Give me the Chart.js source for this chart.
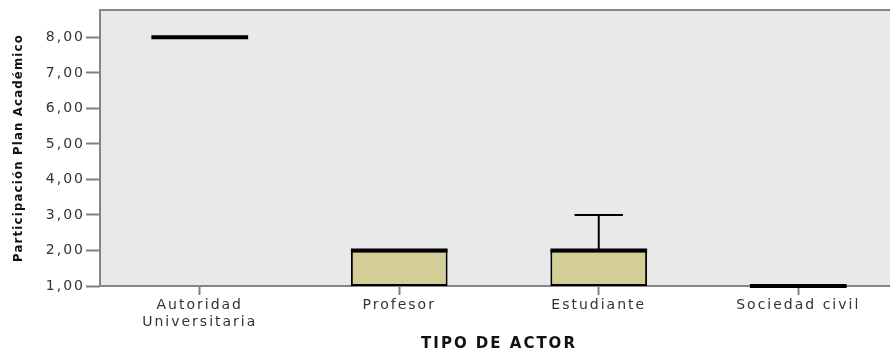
<!DOCTYPE html>
<html>
<head>
<meta charset="utf-8">
<script src="https://cdn.jsdelivr.net/npm/chart.js@4"></script>
<style>
  html, body { margin: 0; padding: 0; background: #fff; overflow: hidden; }
  #wrap { width: 898px; height: 353px; }
</style>
</head>
<body>
<div id="wrap"><canvas id="myChart"></canvas></div>
<script>
// categorias y valores del boxplot
var categories = [["Autoridad", "Universitaria"], "Profesor", "Estudiante", "Sociedad civil"];
var whiskerLow = [8, 1, 1, 1];
var q1 = [8, 1, 1, 1];
var median = [8, 2, 2, 1];
var q3 = [8, 2, 2, 1];
var whiskerHigh = [8, 2, 3, 1];
var yTicks = [1, 2, 3, 4, 5, 6, 7, 8];

var boxes = [];
for (var i = 0; i < categories.length; i++) {
  boxes.push([q1[i], q3[i]]);
}

// cambia el espaciado de letras para cada parte del eje
function patch(scale, method, spacing) {
  if (scale["_p_" + method]) return;
  var orig = scale[method];
  scale[method] = function (a) {
    var ctx = this.ctx;
    var prev = ctx.letterSpacing;
    ctx.letterSpacing = spacing;
    orig.call(this, a);
    ctx.letterSpacing = prev;
  };
  scale["_p_" + method] = true;
}

var boxPlugin = {
  id: "boxPlugin",
  beforeDraw: function (chart) {
    patch(chart.scales.y, "drawLabels", "2px");
    patch(chart.scales.y, "drawTitle", "1.2px");
    patch(chart.scales.x, "drawLabels", "2px");
    patch(chart.scales.x, "drawTitle", "2px");
  },
  beforeDatasetsDraw: function (chart) {
    var ctx = chart.ctx;
    var a = chart.chartArea;
    ctx.save();
    ctx.fillStyle = "#e9e9e9";
    ctx.fillRect(a.left, a.top, a.right - a.left, a.bottom - a.top);
    ctx.strokeStyle = "#858585";
    ctx.lineWidth = 2;
    ctx.strokeRect(a.left, a.top, a.right - a.left, a.bottom - a.top);
    ctx.restore();
  },
  afterDatasetsDraw: function (chart) {
    var ctx = chart.ctx;
    var y = chart.scales.y;
    var meta = chart.getDatasetMeta(0);
    ctx.save();
    ctx.strokeStyle = "#000";
    for (var i = 0; i < categories.length; i++) {
      var bar = meta.data[i];
      var x = bar.x;
      var w = bar.width;
      // bigotes
      ctx.lineWidth = 2;
      if (whiskerHigh[i] > q3[i]) {
        ctx.beginPath();
        ctx.moveTo(x, y.getPixelForValue(q3[i]));
        ctx.lineTo(x, y.getPixelForValue(whiskerHigh[i]));
        ctx.moveTo(x - w / 4, y.getPixelForValue(whiskerHigh[i]));
        ctx.lineTo(x + w / 4, y.getPixelForValue(whiskerHigh[i]));
        ctx.stroke();
      }
      if (whiskerLow[i] < q1[i]) {
        ctx.beginPath();
        ctx.moveTo(x, y.getPixelForValue(q1[i]));
        ctx.lineTo(x, y.getPixelForValue(whiskerLow[i]));
        ctx.moveTo(x - w / 4, y.getPixelForValue(whiskerLow[i]));
        ctx.lineTo(x + w / 4, y.getPixelForValue(whiskerLow[i]));
        ctx.stroke();
      }
      // mediana
      ctx.lineWidth = 4;
      ctx.beginPath();
      ctx.moveTo(x - w / 2, y.getPixelForValue(median[i]));
      ctx.lineTo(x + w / 2, y.getPixelForValue(median[i]));
      ctx.stroke();
    }
    ctx.restore();
  }
};

var ctx = document.getElementById("myChart").getContext("2d");
var chart = new Chart(ctx, {
  type: "bar",
  data: {
    labels: categories,
    datasets: [
      {
        data: boxes,
        backgroundColor: "#d3cd96",
        borderColor: "#000",
        borderWidth: 2,
        borderSkipped: false,
        barPercentage: 0.485,
        categoryPercentage: 1
      }
    ]
  },
  options: {
    responsive: true,
    maintainAspectRatio: false,
    animation: false,
    layout: { padding: { top: 10, left: 0, right: 0, bottom: 0 } },
    plugins: { legend: { display: false }, tooltip: { enabled: false } },
    scales: {
      x: {
        grid: { drawOnChartArea: false, drawTicks: true, offset: false, tickLength: 9, tickColor: "#808080", tickWidth: 2 },
        border: { display: false },
        ticks: {
          color: "#333",
          padding: 2,
          maxRotation: 0,
          autoSkip: false,
          font: { family: "DejaVu Sans", size: 14, lineHeight: 1.2 }
        },
        title: {
          display: true,
          text: "TIPO DE ACTOR",
          color: "#111",
          padding: { top: 0, bottom: 0 },
          font: { family: "DejaVu Sans", size: 15, weight: "bold", lineHeight: 1.2 }
        },
        afterFit: function (scale) { scale.height = 67; }
      },
      y: {
        min: 1,
        max: 8.77,
        grid: { drawOnChartArea: false, drawTicks: true, tickLength: 14, tickColor: "#808080", tickWidth: 2 },
        border: { display: false },
        afterBuildTicks: function (scale) {
          scale.ticks = yTicks.map(function (v) { return { value: v }; });
        },
        ticks: {
          color: "#333",
          padding: 1,
          font: { family: "DejaVu Sans", size: 14 },
          callback: function (v) { return Number(v).toFixed(2).replace(".", ","); }
        },
        title: {
          display: true,
          text: "Participación Plan Académico",
          color: "#111",
          padding: { top: 11, bottom: 0 },
          font: { family: "DejaVu Sans Condensed", size: 13, weight: "bold", lineHeight: 1.2 }
        },
        afterFit: function (scale) { scale.width = 100; }
      }
    }
  },
  plugins: [boxPlugin]
});
</script>
</body>
</html>
